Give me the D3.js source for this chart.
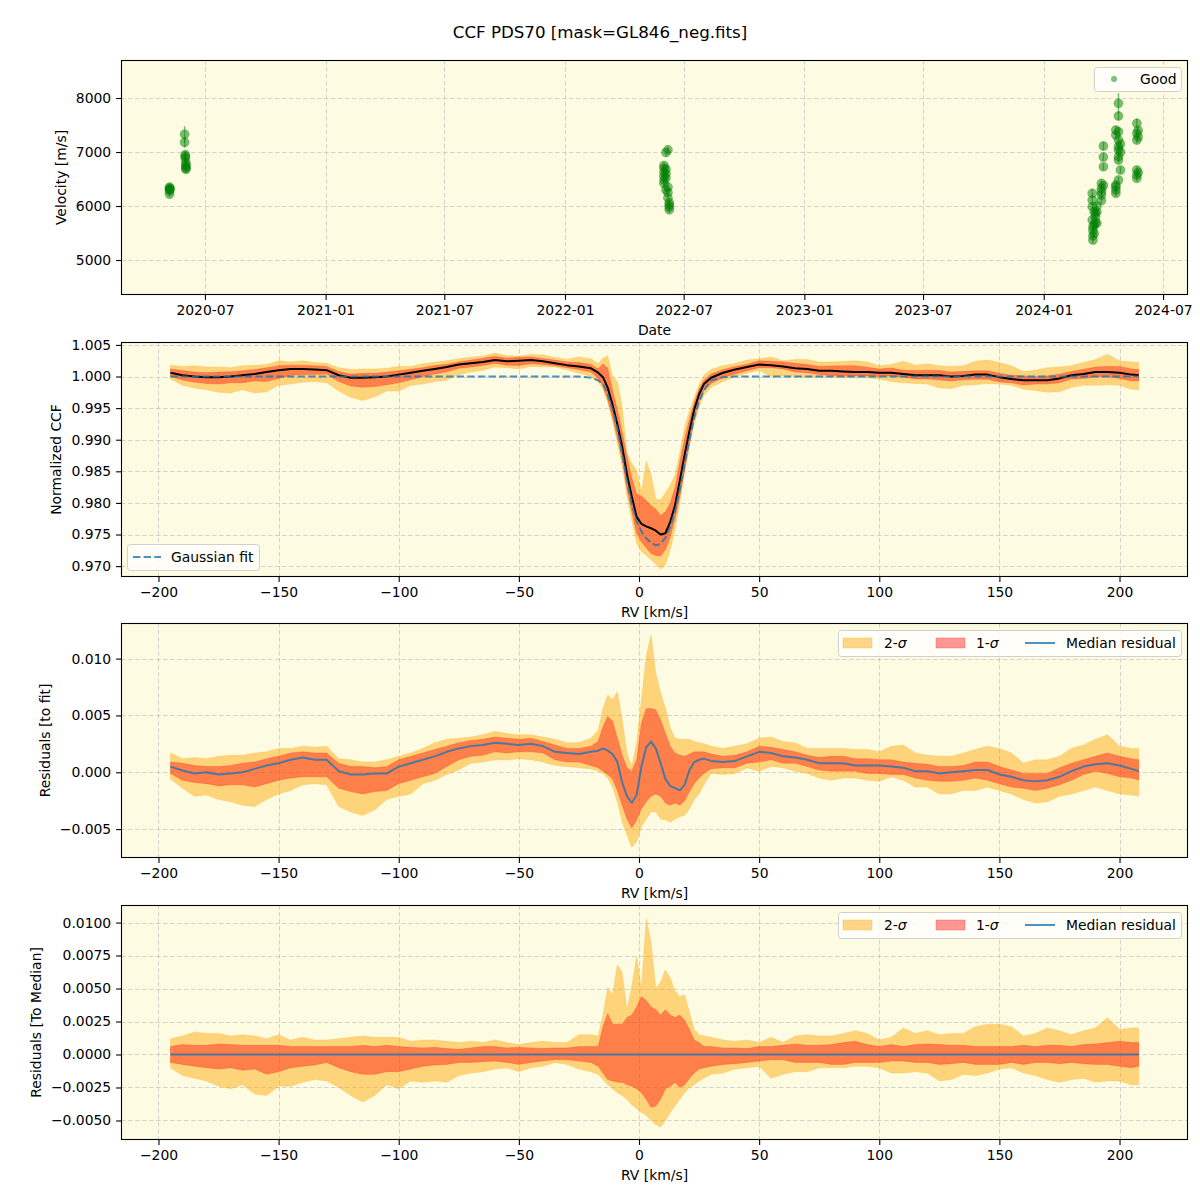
<!DOCTYPE html>
<html><head><meta charset="utf-8">
<script src="https://cdn.jsdelivr.net/npm/d3@7"></script>
<style>body{margin:0;background:#fff}svg{display:block;font-family:"DejaVu Sans",sans-serif}</style>
</head><body><svg id="c" width="1200" height="1200"></svg>
<script>
// ---------------- DATA ----------------
const titleText = "CCF PDS70 [mask=GL846_neg.fits]";

// Panel 1: RV time series ("Good")
const obsDates = [
"2020-05-08","2020-05-08","2020-05-08","2020-05-08","2020-05-08","2020-05-09",
"2020-05-31","2020-05-31","2020-06-01","2020-06-01","2020-06-01","2020-06-02","2020-06-02","2020-06-02","2020-06-02","2020-06-02",
"2022-06-01","2022-06-01","2022-06-01","2022-06-01","2022-06-01","2022-06-01",
"2022-06-04","2022-06-04","2022-06-04","2022-06-04","2022-06-04",
"2022-06-07","2022-06-07","2022-06-07","2022-06-07",
"2022-06-09","2022-06-09","2022-06-09","2022-06-09",
"2024-03-15","2024-03-15","2024-03-15","2024-03-15",
"2024-03-16","2024-03-16","2024-03-16","2024-03-16",
"2024-03-18","2024-03-18","2024-03-18",
"2024-03-20","2024-03-20","2024-03-20",
"2024-03-22","2024-03-22","2024-03-22",
"2024-03-29","2024-03-29","2024-03-29","2024-03-29","2024-03-29",
"2024-04-01","2024-04-01","2024-04-01","2024-04-01",
"2024-04-20","2024-04-20","2024-04-20","2024-04-20","2024-04-20","2024-04-20",
"2024-04-24","2024-04-24","2024-04-24","2024-04-24","2024-04-24","2024-04-24","2024-04-24","2024-04-24","2024-04-24",
"2024-04-27","2024-04-27","2024-04-27",
"2024-05-22","2024-05-22","2024-05-22","2024-05-22","2024-05-22","2024-05-22",
"2024-05-24","2024-05-24","2024-05-24"];
const obsVel = [
6330,6300,6220,6350,6280,6320,
7330,7180,6950,6880,6920,6800,6730,6680,6700,6760,
6750,6700,6620,6550,6480,6420,
6990,6680,6600,6520,6300,
7040,6350,6250,6150,
6020,5980,5930,6060,
6235,6111,5988,5741,
5617,5370,5450,5550,
5895,5494,5650,
5864,5800,5700,
5679,5895,6000,
6420,6327,6265,6204,6100,
7111,6907,6728,6380,
7315,7407,6389,6296,6235,6358,
7901,7667,7376,7222,7099,7037,6914,6852,6481,
6667,7000,7150,
7531,7346,7222,6667,6574,6512,
7280,7400,6620];
const obsErr = [
60,50,60,50,50,60,
150,100,80,70,80,60,60,60,60,60,
60,60,60,60,60,60,
60,60,60,60,60,
60,60,60,60,
60,60,60,60,
70,60,60,60,
60,60,60,60,
60,60,60,
60,60,60,
60,60,60,
60,60,60,60,60,
80,70,60,60,
70,70,60,60,60,60,
190,80,70,60,60,60,60,60,60,
60,60,60,
90,70,60,60,60,60,
60,60,60];

// Shared RV grid (km/s)
const rvGrid = [
-195,-190,-185,-180,-175,-170,-165,-160,-155,-150,-145,-140,-135,-130,-125,-120,-115,-110,-105,-100,-95,-90,-85,-80,-75,-70,-65,-60,-55,-50,-45,-40,-35,-30,-25,-20,
-17,-15,-13,-11,-9,-7,-5,-3,-1,1,3,5,7,9,11,13,15,17,19,21,23,25,27,30,
35,40,45,50,55,60,65,70,75,80,85,90,95,100,105,110,115,120,125,130,135,140,145,150,155,160,165,170,175,180,185,190,195,200,205,208];

// Panel 2: median CCF and Gaussian fit
const ccfMedian = [
1.0006,1.0002,1.0000,0.9999,0.9999,1.0000,1.0002,1.0004,1.0007,1.0010,1.0012,1.0012,1.0011,1.0010,1.0002,0.9998,0.9998,0.9999,1.0000,1.0003,1.0006,1.0009,1.0012,1.0015,1.0019,1.0021,1.0023,1.0026,1.0024,1.0025,1.0026,1.0024,1.0021,1.0018,1.0016,1.0013,
1.0006,0.9999,0.9982,0.9955,0.9924,0.9889,0.9845,0.9810,0.9778,0.9767,0.9763,0.9760,0.9756,0.9750,0.9752,0.9770,0.9796,0.9835,0.9876,0.9914,0.9948,0.9972,0.9988,0.9998,
1.0006,1.0011,1.0015,1.0019,1.0018,1.0016,1.0013,1.0012,1.0009,1.0009,1.0008,1.0007,1.0007,1.0006,1.0006,1.0004,1.0002,1.0002,1.0002,1.0000,1.0001,1.0003,1.0003,0.9999,0.9996,0.9994,0.9994,0.9994,0.9997,1.0002,1.0004,1.0007,1.0007,1.0006,1.0003,1.0002];
const gaussFit = [
1.0000,1.0000,1.0000,1.0000,1.0000,1.0000,1.0000,1.0000,1.0000,1.0000,1.0000,1.0000,1.0000,1.0000,1.0000,1.0000,1.0000,1.0000,1.0000,1.0000,1.0000,1.0000,1.0000,1.0000,1.0000,1.0000,1.0000,1.0000,1.0000,1.0000,1.0000,1.0000,1.0000,1.0000,1.0000,0.9998,
0.9994,0.9988,0.9972,0.9948,0.9918,0.9878,0.9835,0.9798,0.9771,0.9755,0.9744,0.9737,0.9733,0.9735,0.9745,0.9762,0.9787,0.9822,0.9862,0.9900,0.9935,0.9960,0.9978,0.9994,
0.9999,1.0000,1.0000,1.0000,1.0000,1.0000,1.0000,1.0000,1.0000,1.0000,1.0000,1.0000,1.0000,1.0000,1.0000,1.0000,1.0000,1.0000,1.0000,1.0000,1.0000,1.0000,1.0000,1.0000,1.0000,1.0000,1.0000,1.0000,1.0000,1.0000,1.0000,1.0000,1.0000,1.0000,1.0000,1.0000];

// Panel 3: residuals to fit
const resFitMedian = [
0.0005,0.00015,-0.0001,0.0000,-0.0002,-0.0001,0.0000,0.0003,0.0006,0.0008,0.0011,0.0013,0.0011,0.0011,0.0001,-0.0002,-0.0002,-0.0001,-0.0001,0.0005,0.0008,0.0011,0.0014,0.0018,0.0021,0.0023,0.0024,0.0026,0.0025,0.0024,0.0025,0.0023,0.0018,0.0017,0.0016,0.0018,
0.0019,0.0021,0.0019,0.0016,0.0009,-0.0009,-0.0021,-0.0027,-0.0020,0.0005,0.0022,0.0027,0.0021,0.0008,-0.0006,-0.0012,-0.0014,-0.0016,-0.0011,0.0002,0.0009,0.0011,0.0012,0.0010,
0.0009,0.0010,0.0014,0.0018,0.0017,0.0014,0.0013,0.0011,0.0008,0.0008,0.0008,0.0006,0.0006,0.0006,0.0005,0.0004,0.0001,0.0001,-0.0001,0.0000,0.0001,0.0002,0.0002,-0.0002,-0.0004,-0.0007,-0.0008,-0.0007,-0.0004,0.0001,0.0005,0.0007,0.0008,0.0006,0.0003,0.0001];
const resFit1Hi = [
0.0009,0.0008,0.0006,0.0005,0.0005,0.0006,0.0008,0.0009,0.0012,0.0014,0.0017,0.0018,0.0017,0.0017,0.0008,0.0005,0.0005,0.0004,0.0005,0.0011,0.0014,0.0017,0.0020,0.0023,0.0026,0.0028,0.0029,0.0031,0.0030,0.0029,0.0030,0.0027,0.0024,0.0021,0.0021,0.0023,
0.0027,0.0040,0.0049,0.0045,0.0030,0.0015,0.0004,0.0001,0.0011,0.0043,0.0056,0.0056,0.0055,0.0046,0.0034,0.0023,0.0017,0.0015,0.0014,0.0016,0.0018,0.0018,0.0018,0.0016,
0.0014,0.0015,0.0018,0.0023,0.0022,0.0020,0.0018,0.0015,0.0013,0.0014,0.0014,0.0012,0.0012,0.0011,0.0011,0.0009,0.0008,0.0007,0.0005,0.0005,0.0006,0.0009,0.0009,0.0005,0.0002,-0.0001,-0.0001,-0.0001,0.0004,0.0008,0.0011,0.0014,0.0017,0.0014,0.0012,0.0011];
const resFit1Lo = [
-0.0001,-0.0007,-0.0009,-0.0010,-0.0012,-0.0011,-0.0011,-0.0013,-0.0010,-0.0007,-0.0005,-0.0004,-0.0004,-0.0004,-0.0014,-0.0017,-0.0019,-0.0017,-0.0016,-0.0010,-0.0007,-0.0004,-0.0001,0.0005,0.0011,0.0014,0.0015,0.0018,0.0017,0.0018,0.0018,0.0017,0.0011,0.0009,0.0009,0.0006,
0.0004,0.0001,-0.0002,-0.0006,-0.0016,-0.0029,-0.0041,-0.0049,-0.0042,-0.0032,-0.0026,-0.0021,-0.0019,-0.0021,-0.0027,-0.0029,-0.0027,-0.0029,-0.0025,-0.0017,-0.0010,-0.0005,-0.0001,0.0003,
0.0004,0.0004,0.0008,0.0009,0.0011,0.0008,0.0008,0.0005,0.0002,0.0001,0.0001,0.0001,-0.0001,-0.0001,-0.0002,-0.0002,-0.0005,-0.0007,-0.0008,-0.0008,-0.0007,-0.0005,-0.0007,-0.0010,-0.0013,-0.0014,-0.0016,-0.0014,-0.0011,-0.0007,-0.0002,0.0001,-0.0001,-0.0004,-0.0005,-0.0007];
const resFit2Hi = [
0.0017,0.0012,0.0013,0.0012,0.0014,0.0015,0.0015,0.0017,0.0018,0.0021,0.0021,0.0023,0.0022,0.0023,0.0012,0.0011,0.0009,0.0009,0.0011,0.0014,0.0017,0.0021,0.0026,0.0029,0.0030,0.0031,0.0033,0.0036,0.0034,0.0033,0.0033,0.0031,0.0029,0.0026,0.0026,0.0030,
0.0037,0.0056,0.0068,0.0064,0.0071,0.0046,0.0017,0.0005,0.0026,0.0064,0.0102,0.0121,0.0087,0.0070,0.0056,0.0039,0.0030,0.0029,0.0029,0.0029,0.0027,0.0026,0.0025,0.0023,
0.0021,0.0023,0.0025,0.0030,0.0031,0.0027,0.0026,0.0021,0.0021,0.0021,0.0021,0.0020,0.0020,0.0018,0.0023,0.0024,0.0017,0.0015,0.0014,0.0014,0.0017,0.0020,0.0023,0.0021,0.0017,0.0008,0.0011,0.0011,0.0014,0.0021,0.0024,0.0029,0.0033,0.0023,0.0021,0.0021];
const resFit2Lo = [
-0.0006,-0.0014,-0.0021,-0.0020,-0.0024,-0.0026,-0.0029,-0.0030,-0.0024,-0.0019,-0.0016,-0.0011,-0.0010,-0.0011,-0.0030,-0.0035,-0.0038,-0.0033,-0.0024,-0.0021,-0.0019,-0.0010,-0.0007,-0.0002,0.0002,0.0008,0.0009,0.0011,0.0011,0.0012,0.0011,0.0009,0.0006,0.0005,0.0004,0.0003,
0.0001,-0.0001,-0.0005,-0.0013,-0.0026,-0.0044,-0.0055,-0.0066,-0.0061,-0.0048,-0.0041,-0.0035,-0.0035,-0.0041,-0.0042,-0.0044,-0.0041,-0.0039,-0.0038,-0.0032,-0.0024,-0.0019,-0.0011,-0.0001,
-0.0002,-0.0001,0.0004,0.0001,0.0005,0.0004,0.0001,-0.0001,-0.0005,-0.0007,-0.0005,-0.0005,-0.0007,-0.0008,-0.0004,-0.0007,-0.0013,-0.0013,-0.0019,-0.0019,-0.0016,-0.0016,-0.0013,-0.0016,-0.0019,-0.0024,-0.0027,-0.0026,-0.0021,-0.0019,-0.0016,-0.0013,-0.0016,-0.0019,-0.0020,-0.0021];

// Panel 4: residuals to median (median residual is zero)
const resMedMedian = [
0,0,0,0,0,0,0,0,0,0,0,0,0,0,0,0,0,0,0,0,0,0,0,0,0,0,0,0,0,0,0,0,0,0,0,0,
0,0,0,0,0,0,0,0,0,0,0,0,0,0,0,0,0,0,0,0,0,0,0,0,
0,0,0,0,0,0,0,0,0,0,0,0,0,0,0,0,0,0,0,0,0,0,0,0,0,0,0,0,0,0,0,0,0,0,0,0];
const resMed1Hi = [
0.0006,0.00075,0.0007,0.0007,0.0008,0.00075,0.0007,0.0007,0.0007,0.0007,0.0006,0.0006,0.0006,0.0006,0.0006,0.0006,0.0007,0.0006,0.0007,0.0006,0.00055,0.0005,0.00055,0.00045,0.0004,0.0005,0.0006,0.0006,0.0005,0.00055,0.0005,0.00045,0.0005,0.0005,0.0006,0.0006,
0.0006,0.0021,0.0031,0.0023,0.0023,0.0023,0.0028,0.0030,0.0036,0.0044,0.0041,0.0036,0.0034,0.0030,0.0034,0.0030,0.0028,0.0030,0.0026,0.0019,0.0011,0.0009,0.0006,0.0006,
0.0005,0.0005,0.00045,0.0006,0.0006,0.0007,0.0008,0.0007,0.0007,0.00075,0.0009,0.0010,0.00075,0.0006,0.00075,0.0006,0.00075,0.0008,0.00075,0.0007,0.0007,0.0006,0.0006,0.0006,0.0006,0.0007,0.0006,0.0007,0.0007,0.0006,0.00075,0.0008,0.0009,0.0010,0.0009,0.0009];
const resMed1Lo = [
-0.0006,-0.00075,-0.0009,-0.0010,-0.0011,-0.0010,-0.0012,-0.0011,-0.0015,-0.0013,-0.0010,-0.0009,-0.0008,-0.0006,-0.0010,-0.0013,-0.0015,-0.0015,-0.0013,-0.0013,-0.0011,-0.0009,-0.0008,-0.00075,-0.0006,-0.0006,-0.00055,-0.0005,-0.0006,-0.00075,-0.0006,-0.0005,-0.0004,-0.0004,-0.0005,-0.0006,
-0.0009,-0.0014,-0.0019,-0.0020,-0.0021,-0.0021,-0.0023,-0.0024,-0.0026,-0.0029,-0.0034,-0.0040,-0.0039,-0.0034,-0.0026,-0.0024,-0.0021,-0.0025,-0.0023,-0.0018,-0.0014,-0.0011,-0.0010,-0.0009,
-0.00075,-0.0007,-0.0006,-0.0005,-0.0004,-0.0004,-0.0006,-0.0006,-0.0006,-0.00075,-0.00075,-0.0006,-0.0006,-0.0006,-0.0005,-0.0005,-0.0006,-0.0006,-0.00075,-0.0007,-0.0006,-0.00075,-0.00075,-0.00075,-0.0006,-0.00075,-0.0006,-0.0006,-0.0007,-0.0006,-0.0007,-0.00075,-0.00075,-0.0009,-0.0010,-0.0009];
const resMed2Hi = [
0.0012,0.0014,0.0017,0.0016,0.0016,0.0014,0.0015,0.0014,0.0012,0.0015,0.0011,0.0013,0.0011,0.0011,0.0012,0.0013,0.0014,0.0013,0.0013,0.0013,0.0010,0.0011,0.0011,0.0010,0.0009,0.0010,0.0009,0.0011,0.0009,0.00075,0.0009,0.0010,0.0009,0.0009,0.0015,0.0015,
0.0014,0.0030,0.0051,0.0045,0.0068,0.0062,0.0034,0.0052,0.0074,0.0050,0.0103,0.0085,0.0050,0.0055,0.0064,0.0058,0.0048,0.0044,0.0045,0.0032,0.0019,0.0015,0.0014,0.0013,
0.0011,0.0010,0.0011,0.0009,0.0013,0.0009,0.0014,0.0015,0.0014,0.0014,0.0016,0.0018,0.0016,0.0011,0.0013,0.0020,0.0016,0.0018,0.0015,0.0016,0.0016,0.0021,0.0023,0.0023,0.0021,0.0014,0.0016,0.0020,0.0018,0.0015,0.0018,0.0020,0.0028,0.0019,0.0020,0.0020];
const resMed2Lo = [
-0.0010,-0.0016,-0.0018,-0.0020,-0.0024,-0.0026,-0.0023,-0.0030,-0.0031,-0.0024,-0.0024,-0.0021,-0.0019,-0.0020,-0.0025,-0.0031,-0.0036,-0.0031,-0.0023,-0.0026,-0.0020,-0.0021,-0.0020,-0.0021,-0.0016,-0.0014,-0.0013,-0.0011,-0.0010,-0.0013,-0.0010,-0.0009,-0.0006,-0.00075,-0.0011,-0.0013,
-0.0015,-0.0019,-0.0023,-0.0026,-0.0029,-0.0031,-0.0034,-0.0038,-0.0041,-0.0044,-0.0046,-0.0050,-0.0053,-0.0055,-0.0050,-0.0044,-0.0039,-0.0034,-0.0029,-0.0025,-0.0023,-0.0020,-0.0018,-0.0015,
-0.0014,-0.0011,-0.0010,-0.0009,-0.0018,-0.0015,-0.0013,-0.0013,-0.0010,-0.0010,-0.0010,-0.0009,-0.0009,-0.0010,-0.0014,-0.0014,-0.0013,-0.0014,-0.0020,-0.0019,-0.0015,-0.0016,-0.0014,-0.0011,-0.0010,-0.0014,-0.0016,-0.0019,-0.0021,-0.0019,-0.0018,-0.0021,-0.0020,-0.0020,-0.0023,-0.0023];

// Tick labels
const dateTicks = ["2020-07","2021-01","2021-07","2022-01","2022-07","2023-01","2023-07","2024-01","2024-07"];
const velTicks = [5000,6000,7000,8000];
const rvTicks = [-200,-150,-100,-50,0,50,100,150,200];
const ccfTicks = [0.970,0.975,0.980,0.985,0.990,0.995,1.000,1.005];
const resFitTicks = [-0.005,0.000,0.005,0.010];
const resMedTicks = [-0.005,-0.0025,0.0000,0.0025,0.0050,0.0075,0.0100];

// ---------------- DRAWING ----------------
const svg = d3.select("#c");
const FONT = 13.9;
const BG = "#fdfbe1";
const AX_L = 121, AX_R = 1188;
const panels = [{t:60,b:295},{t:342,b:577},{t:623,b:858},{t:905,b:1140}];
const C_ORANGE = "#ffa500", C_RED = "#ff0000", C_BLUE = "#1f77b4";

svg.append("rect").attr("width",1200).attr("height",1200).attr("fill","#fff");
svg.append("text").attr("x",600).attr("y",38).attr("text-anchor","middle")
  .attr("font-size",16.67).text(titleText);

const defs = svg.append("defs");
panels.forEach((p,i)=>{
  defs.append("clipPath").attr("id","clip"+i).append("rect")
    .attr("x",AX_L).attr("y",p.t).attr("width",AX_R-AX_L).attr("height",p.b-p.t);
});

const parseDay = d3.utcParse("%Y-%m-%d");
const parseMonth = d3.utcParse("%Y-%m");

const xTime = d3.scaleUtc().domain([parseDay("2020-02-24"), parseDay("2024-08-08")]).range([AX_L, AX_R]);
const xRV = d3.scaleLinear().domain([-215.6, 228.5]).range([AX_L, AX_R]);
const yScales = [
  d3.scaleLinear().domain([4352, 8704]).range([panels[0].b, panels[0].t]),
  d3.scaleLinear().domain([0.96828, 1.00546]).range([panels[1].b, panels[1].t]),
  d3.scaleLinear().domain([-0.00754, 0.01313]).range([panels[2].b, panels[2].t]),
  d3.scaleLinear().domain([-0.00648, 0.01133]).range([panels[3].b, panels[3].t])
];

function panelFrame(i, xScale, xTickVals, xFmt, yTickVals, yFmt, xLabel, yLabel, yLabelX){
  const p = panels[i], y = yScales[i];
  const g = svg.append("g");
  g.append("rect").attr("x",AX_L).attr("y",p.t).attr("width",AX_R-AX_L).attr("height",p.b-p.t).attr("fill",BG);
  const grid = g.append("g").attr("stroke","#b0b0c0").attr("stroke-opacity",0.55).attr("stroke-width",1).attr("stroke-dasharray","4.5,2.5");
  xTickVals.forEach(v=>{ const xx = Math.round(xScale(v))+0.5;
    grid.append("line").attr("x1",xx).attr("x2",xx).attr("y1",p.t).attr("y2",p.b); });
  yTickVals.forEach(v=>{ const yy = Math.round(y(v))+0.5;
    grid.append("line").attr("x1",AX_L).attr("x2",AX_R).attr("y1",yy).attr("y2",yy); });
  const plot = svg.append("g").attr("clip-path","url(#clip"+i+")");
  return {g, plot, finish: ()=>{
    const top = svg.append("g");
    const ax = top.append("g").attr("transform",`translate(0,${p.b})`)
      .call(d3.axisBottom(xScale).tickValues(xTickVals).tickFormat(xFmt).tickSize(4.9).tickPadding(4.9).tickSizeOuter(0));
    const ay = top.append("g").attr("transform",`translate(${AX_L},0)`)
      .call(d3.axisLeft(y).tickValues(yTickVals).tickFormat(yFmt).tickSize(4.9).tickPadding(4.9).tickSizeOuter(0));
    [ax,ay].forEach(a=>{ a.select(".domain").remove();
      a.selectAll("text").attr("font-size",FONT).attr("font-family","DejaVu Sans").attr("fill","#000");
      a.selectAll("line").attr("stroke","#000").attr("stroke-width",1.1); });
    top.append("rect").attr("x",AX_L+0.5).attr("y",p.t+0.5).attr("width",AX_R-AX_L-1).attr("height",p.b-p.t-1)
      .attr("fill","none").attr("stroke","#000").attr("stroke-width",1.1);
    top.append("text").attr("x",(AX_L+AX_R)/2).attr("y",p.b+40).attr("text-anchor","middle").attr("font-size",FONT).text(xLabel);
    top.append("text").attr("transform",`translate(${yLabelX},${(p.t+p.b)/2}) rotate(-90)`)
      .attr("text-anchor","middle").attr("font-size",FONT).text(yLabel);
  }};
}

function legendBox(x,y,w,h){
  svg.append("rect").attr("x",x+0.5).attr("y",y+0.5).attr("width",w).attr("height",h).attr("rx",3)
    .attr("fill","#fff").attr("fill-opacity",0.8).attr("stroke","#d0d0d0").attr("stroke-width",1);
}

// ---- Panel 1 ----
{
  const y = yScales[0];
  const dateTickVals = dateTicks.map(parseMonth);
  const P = panelFrame(0, xTime, dateTickVals, d3.utcFormat("%Y-%m"), velTicks, d3.format("d"), "Date", "Velocity [m/s]", 66);
  const pts = obsDates.map((d,i)=>({t:parseDay(d), v:obsVel[i], e:obsErr[i]}));
  P.plot.append("g").selectAll("line").data(pts).join("line")
    .attr("x1",d=>xTime(d.t)).attr("x2",d=>xTime(d.t))
    .attr("y1",d=>y(d.v-d.e)).attr("y2",d=>y(d.v+d.e))
    .attr("stroke","green").attr("stroke-opacity",0.5).attr("stroke-width",1.5);
  P.plot.append("g").selectAll("circle").data(pts).join("circle")
    .attr("cx",d=>xTime(d.t)).attr("cy",d=>y(d.v)).attr("r",4.5)
    .attr("fill","green").attr("fill-opacity",0.5).attr("stroke","green").attr("stroke-opacity",0.3).attr("stroke-width",1);
  P.finish();
  legendBox(1094,67,87,24);
  svg.append("circle").attr("cx",1114).attr("cy",79).attr("r",3).attr("fill","green").attr("fill-opacity",0.5);
  svg.append("text").attr("x",1140).attr("y",84).attr("font-size",FONT).text("Good");
}

function drawBand(g, y, lo, hi, color, op){
  const area = d3.area().x((d,i)=>xRV(rvGrid[i])).y0((d,i)=>y(lo[i])).y1((d,i)=>y(hi[i]));
  g.append("path").datum(rvGrid).attr("d",area).attr("fill",color).attr("fill-opacity",op)
    .attr("stroke",color).attr("stroke-opacity",op*0.5).attr("stroke-width",1);
}
function drawLine(g, y, vals, color, w, op, dash){
  const line = d3.line().x((d,i)=>xRV(rvGrid[i])).y((d,i)=>y(vals[i]));
  const p = g.append("path").datum(rvGrid).attr("d",line).attr("fill","none")
    .attr("stroke",color).attr("stroke-width",w).attr("stroke-opacity",op).attr("stroke-linejoin","round");
  if(dash) p.attr("stroke-dasharray",dash);
}

// ---- Panel 2 ----
{
  const y = yScales[1];
  const P = panelFrame(1, xRV, rvTicks, d3.format("d"), ccfTicks, d3.format(".3f"), "RV [km/s]", "Normalized CCF", 61);
  const b2lo = ccfMedian.map((v,i)=>v+resMed2Lo[i]), b2hi = ccfMedian.map((v,i)=>v+resMed2Hi[i]);
  const b1lo = ccfMedian.map((v,i)=>v+resMed1Lo[i]), b1hi = ccfMedian.map((v,i)=>v+resMed1Hi[i]);
  drawBand(P.plot, y, b2lo, b2hi, C_ORANGE, 0.45);
  drawBand(P.plot, y, b1lo, b1hi, C_RED, 0.4);
  drawLine(P.plot, y, ccfMedian, "#000", 2, 1);
  drawLine(P.plot, y, gaussFit, C_BLUE, 2, 0.8, "7.4,3.2");
  P.finish();
  legendBox(127,544,132,26);
  svg.append("line").attr("x1",133).attr("x2",161).attr("y1",557).attr("y2",557)
    .attr("stroke",C_BLUE).attr("stroke-opacity",0.8).attr("stroke-width",2).attr("stroke-dasharray","7.4,3.2");
  svg.append("text").attr("x",171).attr("y",562).attr("font-size",FONT).text("Gaussian fit");
}

function sigmaLegend(y0){
  legendBox(838,y0,343,26);
  const cy = y0+13;
  svg.append("rect").attr("x",843).attr("y",cy-5).attr("width",29).attr("height",10)
    .attr("fill",C_ORANGE).attr("fill-opacity",0.45).attr("stroke",C_ORANGE).attr("stroke-opacity",0.3);
  const t1 = svg.append("text").attr("x",884).attr("y",cy+5).attr("font-size",FONT);
  t1.append("tspan").text("2-"); t1.append("tspan").attr("font-style","italic").text("σ");
  svg.append("rect").attr("x",936).attr("y",cy-5).attr("width",29).attr("height",10)
    .attr("fill",C_RED).attr("fill-opacity",0.4).attr("stroke",C_RED).attr("stroke-opacity",0.25);
  const t2 = svg.append("text").attr("x",976).attr("y",cy+5).attr("font-size",FONT);
  t2.append("tspan").text("1-"); t2.append("tspan").attr("font-style","italic").text("σ");
  svg.append("line").attr("x1",1025).attr("x2",1055).attr("y1",cy).attr("y2",cy)
    .attr("stroke",C_BLUE).attr("stroke-opacity",0.8).attr("stroke-width",2);
  svg.append("text").attr("x",1066).attr("y",cy+5).attr("font-size",FONT).text("Median residual");
}

// ---- Panel 3 ----
{
  const y = yScales[2];
  const P = panelFrame(2, xRV, rvTicks, d3.format("d"), resFitTicks, d3.format(".3f"), "RV [km/s]", "Residuals [to fit]", 50);
  drawBand(P.plot, y, resFit2Lo, resFit2Hi, C_ORANGE, 0.45);
  drawBand(P.plot, y, resFit1Lo, resFit1Hi, C_RED, 0.4);
  drawLine(P.plot, y, resFitMedian, C_BLUE, 2, 0.8);
  P.finish();
  sigmaLegend(630);
}

// ---- Panel 4 ----
{
  const y = yScales[3];
  const P = panelFrame(3, xRV, rvTicks, d3.format("d"), resMedTicks, d3.format(".4f"), "RV [km/s]", "Residuals [To Median]", 41);
  drawBand(P.plot, y, resMed2Lo, resMed2Hi, C_ORANGE, 0.45);
  drawBand(P.plot, y, resMed1Lo, resMed1Hi, C_RED, 0.4);
  drawLine(P.plot, y, resMedMedian, C_BLUE, 2, 0.8);
  P.finish();
  sigmaLegend(912);
}
</script></body></html>
